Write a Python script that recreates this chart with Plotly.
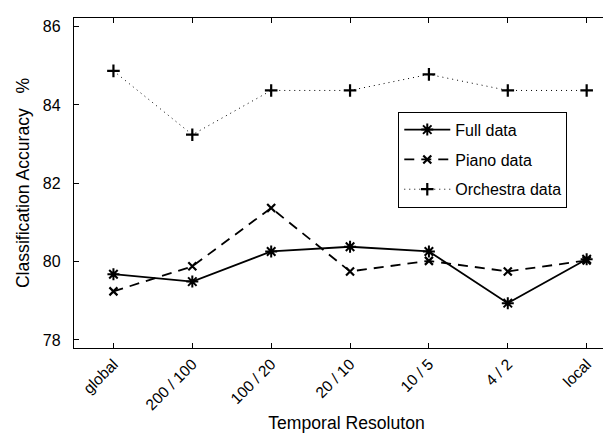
import plotly.graph_objects as go

categories = ["global", "200 / 100", "100 / 20", "20 / 10", "10 / 5", "4 / 2", "local"]
full_data = [79.68, 79.49, 80.26, 80.38, 80.26, 78.94, 80.06]
piano_data = [79.24, 79.88, 81.37, 79.75, 80.02, 79.75, 80.03]
orchestra_data = [84.87, 83.24, 84.37, 84.37, 84.78, 84.37, 84.37]
y_ticks = [78, 80, 82, 84, 86]
series_names = ["Full data", "Piano data", "Orchestra data"]

x = list(range(len(categories)))
FONT = "Liberation Sans, Arial, Helvetica, sans-serif"
NB = "\u00a0"

fig = go.Figure()
fig.add_trace(go.Scatter(
    x=x, y=full_data, name=series_names[0], mode="lines+markers", legendgroup="a",
    line=dict(color="black", width=1.8, dash="solid"),
    marker=dict(symbol="asterisk-open", size=10, color="black", line=dict(color="black", width=2)),
))
fig.add_trace(go.Scatter(
    x=x, y=piano_data, name=series_names[1], mode="lines+markers", legendgroup="b",
    line=dict(color="black", width=1.8, dash="10px,7px"),
    marker=dict(symbol="x-thin-open", size=8, color="black", line=dict(color="black", width=2.2)),
))
fig.add_trace(go.Scatter(
    x=x, y=orchestra_data, name=series_names[2], mode="lines+markers", legendgroup="c",
    line=dict(color="black", width=1, dash="1px,4px"),
    marker=dict(symbol="cross-thin-open", size=9, color="black", line=dict(color="black", width=2.2)),
))

fig.update_layout(
    width=611, height=433,
    margin=dict(l=66, r=0, t=10, b=93),
    plot_bgcolor="white", paper_bgcolor="white",
    font=dict(family=FONT, size=16, color="black"),
    showlegend=True,
    legend=dict(
        x=0.595, y=0.716, xanchor="left", yanchor="top",
        bgcolor="white", bordercolor="black", borderwidth=1,
        font=dict(family=FONT, size=16, color="black"),
        tracegroupgap=6,
        itemwidth=46,
    ),
    xaxis=dict(
        range=[-0.5, 6.41], tickmode="array", tickvals=x, ticktext=categories,
        tickangle=-45, ticks="inside", ticklen=5, tickcolor="black",
        showline=True, linecolor="black", linewidth=1.3, mirror="ticks",
        showgrid=False, zeroline=False,
        tickfont=dict(family=FONT, size=15.5),
        title=dict(text="Temporal Resoluton", font=dict(family=FONT, size=17.6), standoff=4),
        automargin=False,
    ),
    yaxis=dict(
        range=[77.795, 86.22], tickmode="array", tickvals=y_ticks,
        ticks="inside", ticklen=5, tickcolor="black",
        showline=True, linecolor="black", linewidth=1.3, mirror=False,
        showgrid=False, zeroline=False,
        tickfont=dict(family=FONT, size=16),
        ticklabelstandoff=9,
        title=dict(text="Classification Accuracy" + NB * 3 + "%", font=dict(family=FONT, size=17.6), standoff=8),
        automargin=False,
    ),
)

fig.write_html("out.html")
